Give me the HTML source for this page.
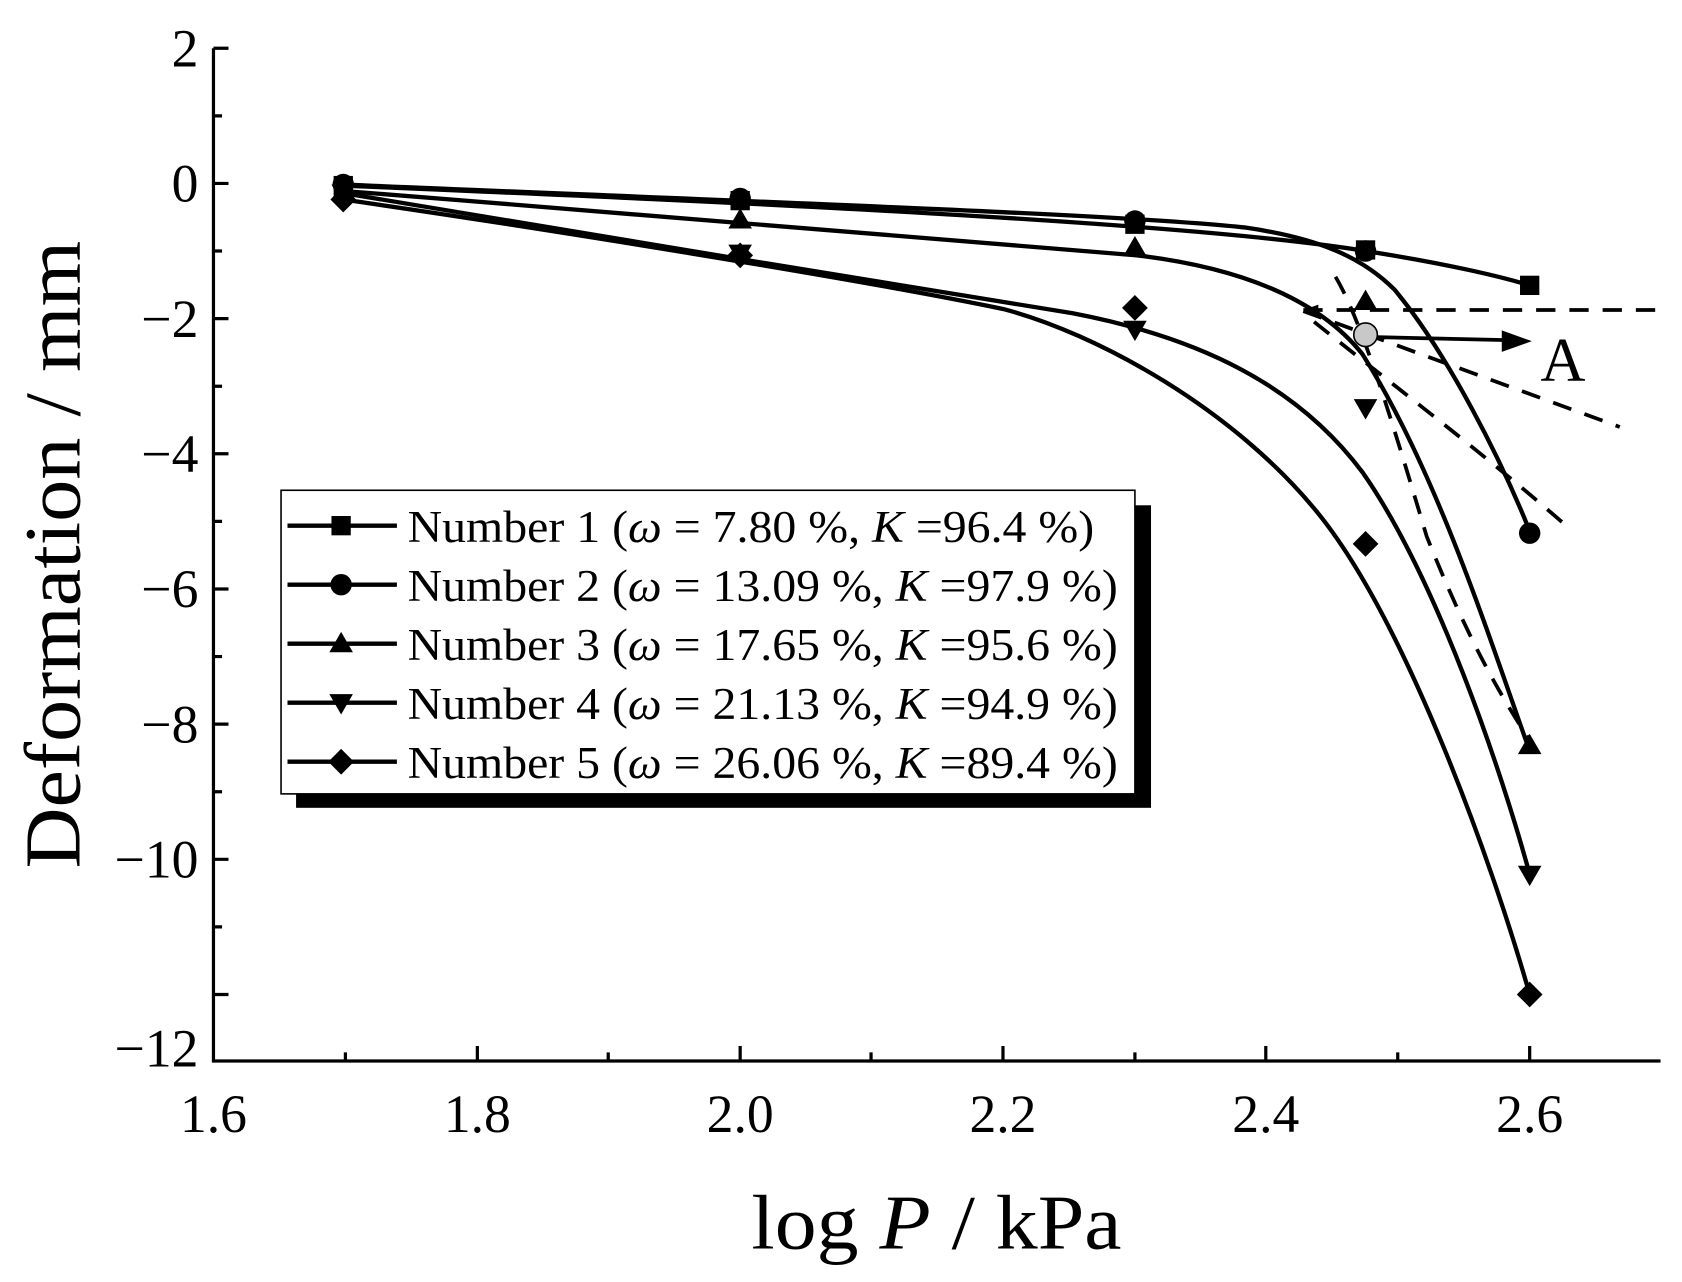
<!DOCTYPE html>
<html><head><style>html,body{margin:0;padding:0;background:#fff}svg{display:block}text{font-family:"Liberation Serif","Times New Roman",serif}</style></head>
<body>
<svg width="1682" height="1282" viewBox="0 0 1568 1195" preserveAspectRatio="none" xmlns="http://www.w3.org/2000/svg">
<rect width="1568" height="1195" fill="#fff"/>
<g stroke="#000" stroke-width="3" fill="none">
<path d="M199,45 V989 H1548"/>
<path d="M199,45h14M199,108h8M199,171h14M199,234h8M199,297h14M199,360h8M199,423h14M199,486h8M199,549h14M199,612h8M199,675h14M199,738h8M199,801h14M199,864h8M199,927h14"/>
<path d="M322,989v-8M445,989v-14M567,989v-8M690,989v-14M812,989v-8M935,989v-14M1058,989v-8M1180,989v-14M1303,989v-8M1426,989v-14"/>
</g>
<g font-size="50" text-anchor="end">
<text x="185" y="62">2</text>
<text x="185" y="188">0</text>
<text x="185" y="314">−2</text>
<text x="185" y="440">−4</text>
<text x="185" y="566">−6</text>
<text x="185" y="692">−8</text>
<text x="185" y="818">−10</text>
<text x="185" y="994">−12</text>
</g>
<g font-size="50" text-anchor="middle">
<text x="199" y="1055">1.6</text>
<text x="445" y="1055">1.8</text>
<text x="690" y="1055">2.0</text>
<text x="935" y="1055">2.2</text>
<text x="1180" y="1055">2.4</text>
<text x="1426" y="1055">2.6</text>
</g>
<text x="873" y="1164" font-size="72" text-anchor="middle" textLength="345" lengthAdjust="spacingAndGlyphs">log <tspan font-style="italic">P</tspan> / kPa</text>
<text transform="translate(74,517) rotate(-90)" font-size="74" text-anchor="middle" textLength="585" lengthAdjust="spacingAndGlyphs">Deformation / mm</text>

<g stroke="#000" stroke-width="4" fill="none">
<path d="M320,173 C600,185 1100,205 1273,234 C1350,246 1400,258 1426,266"/>
<path d="M320,172 C700,188 1050,200 1160,212 C1230,222 1270,240 1300,270 C1350,330 1400,430 1426,495"/>
<path d="M320,178 C600,200 900,225 1060,238 C1160,250 1230,280 1270,330 C1340,440 1390,600 1426,700"/>
<path d="M320,180 C500,210 800,260 1000,292 C1120,315 1210,360 1270,440 C1340,540 1400,720 1426,815"/>
<path d="M320,186 C500,212 800,260 935,288 C1020,310 1150,380 1230,480 C1310,580 1390,800 1426,927"/>
</g>
<g stroke="#000" stroke-width="3.5" fill="none" stroke-dasharray="18,13">
<path d="M1215,289 H1548"/>
<path d="M1215,290 L1510,398"/>
<path d="M1245,258 C1270,300 1300,400 1330,500 C1370,600 1400,650 1426,690"/>
<path d="M1225,300 C1300,360 1380,420 1460,490"/>
</g>
<path d="M1215,289 l14,-5 v10 z" fill="#000"/>
<path d="M1273,314 L1405,317" stroke="#000" stroke-width="3.5"/>
<path d="M1428,318 l-28,-10 v20 z" fill="#000"/>
<circle cx="1273" cy="312" r="11" fill="#c8c8c8" stroke="#000" stroke-width="1.5"/>
<text x="1457" y="355" font-size="58" text-anchor="middle">A</text>

<g fill="#000">
<rect x="311" y="164" width="18" height="18"/><rect x="681" y="178" width="18" height="18"/><rect x="1049" y="200" width="18" height="18"/><rect x="1264" y="224" width="18" height="18"/><rect x="1417" y="257" width="18" height="18"/>
<circle cx="320" cy="172" r="10"/><circle cx="690" cy="185" r="10"/><circle cx="1058" cy="206" r="10"/><circle cx="1273" cy="234" r="10"/><circle cx="1426" cy="497" r="10"/>
<path d="M320,167l11,19h-22z M690,194l11,19h-22z M1058,220l11,19h-22z M1273,270l11,19h-22z M1426,684l11,19h-22z"/>
<path d="M320,191l11,-19h-22z M690,247l11,-19h-22z M1058,318l11,-19h-22z M1273,391l11,-19h-22z M1426,826l11,-19h-22z"/>
<path d="M320,174l12,12l-12,12l-12,-12z M690,226l12,12l-12,12l-12,-12z M1058,275l12,12l-12,12l-12,-12z M1273,495l12,12l-12,12l-12,-12z M1426,915l12,12l-12,12l-12,-12z"/>
</g>

<rect x="276" y="471" width="797" height="282" fill="#000"/>
<rect x="262" y="457" width="796" height="283" fill="#fff" stroke="#000" stroke-width="1.5"/>
<g stroke="#000" stroke-width="4">
<path d="M268,490h102M268,545h102M268,600h102M268,655h102M268,710h102"/>
</g>
<g fill="#000">
<rect x="309" y="481" width="18" height="18"/>
<circle cx="318" cy="545" r="10"/>
<path d="M318,589l11,19h-22z"/>
<path d="M318,666l11,-19h-22z"/>
<path d="M318,698l12,12l-12,12l-12,-12z"/>
</g>
<g font-size="42">
<text x="380" y="505" textLength="640" lengthAdjust="spacingAndGlyphs">Number 1 (<tspan font-style="italic">ω</tspan> = 7.80 %, <tspan font-style="italic">K</tspan> =96.4 %)</text>
<text x="380" y="560" textLength="662" lengthAdjust="spacingAndGlyphs">Number 2 (<tspan font-style="italic">ω</tspan> = 13.09 %, <tspan font-style="italic">K</tspan> =97.9 %)</text>
<text x="380" y="615" textLength="662" lengthAdjust="spacingAndGlyphs">Number 3 (<tspan font-style="italic">ω</tspan> = 17.65 %, <tspan font-style="italic">K</tspan> =95.6 %)</text>
<text x="380" y="670" textLength="662" lengthAdjust="spacingAndGlyphs">Number 4 (<tspan font-style="italic">ω</tspan> = 21.13 %, <tspan font-style="italic">K</tspan> =94.9 %)</text>
<text x="380" y="725" textLength="662" lengthAdjust="spacingAndGlyphs">Number 5 (<tspan font-style="italic">ω</tspan> = 26.06 %, <tspan font-style="italic">K</tspan> =89.4 %)</text>
</g>
</svg>
</body></html>
